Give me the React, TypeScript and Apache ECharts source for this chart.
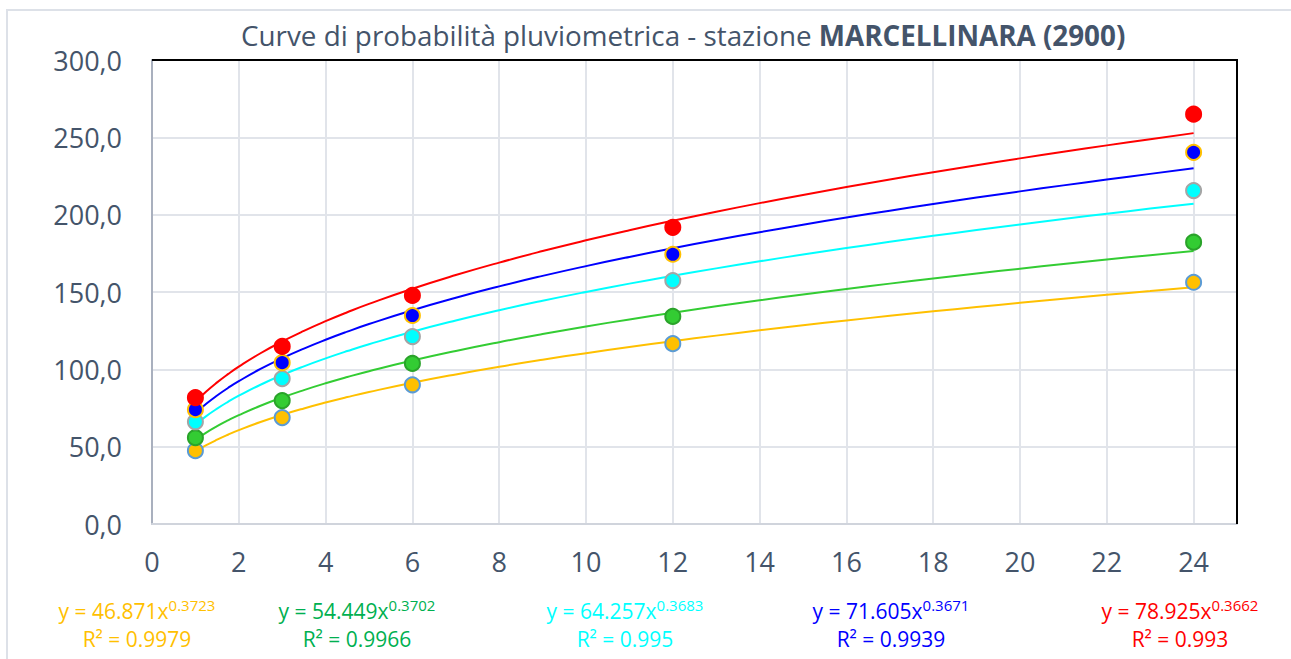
import React, { useEffect, useRef } from "react";
import * as echarts from "echarts";

const durations = [1, 3, 6, 12, 24];
const seriesNames = ["T1", "T2", "T3", "T4", "T5"];
const valuesT1 = [47.4, 68.8, 90.0, 116.6, 156.3];
const valuesT2 = [55.8, 79.8, 103.8, 134.2, 182.2];
const valuesT3 = [66.1, 94.0, 121.2, 157.4, 215.6];
const valuesT4 = [73.9, 104.3, 134.8, 174.4, 240.3];
const valuesT5 = [81.7, 114.8, 147.8, 191.8, 265.0];
const coefA = [46.871, 54.449, 64.257, 71.605, 78.925];
const coefB = [0.3723, 0.3702, 0.3683, 0.3671, 0.3662];
const r2 = ["0.9979", "0.9966", "0.995", "0.9939", "0.993"];
const trendX = [1, 1.25, 1.5, 1.75, 2, 2.5, 3, 3.5, 4, 4.5, 5, 6, 7, 8, 9, 10, 11, 12, 13, 14, 15, 16, 17, 18, 19, 20, 21, 22, 23, 24];
const xTicks = [0, 2, 4, 6, 8, 10, 12, 14, 16, 18, 20, 22, 24];
const yTicks = [0, 50, 100, 150, 200, 250, 300];
const X_MIN = 0;
const X_MAX = 25;
const Y_MIN = 0;
const Y_MAX = 300;

const allValues = [valuesT1, valuesT2, valuesT3, valuesT4, valuesT5];
const lineColors = ["#FFC000", "#33CC33", "#00FFFF", "#0000FF", "#FF0000"];
const markerBorders = ["#5B9BD5", "#2AA32A", "#A5A5A5", "#FFC000", "#FF0000"];
const eqColors = ["#FFC000", "#00B050", "#00FFFF", "#0000FF", "#FF0000"];
const eqCenters = [137, 357, 625, 891, 1180];

const FONT = "'Open Sans', sans-serif";
const TXT = "#44546A";

export default function App() {
  const ref = useRef<HTMLDivElement>(null);
  useEffect(() => {
    if (!ref.current) return;
    const chart = echarts.init(ref.current, undefined, { renderer: "svg" });
    const series: any[] = [];
    allValues.forEach((vals, i) => {
      series.push({
        name: seriesNames[i] + " trend",
        type: "line",
        data: trendX.map((x) => [x, coefA[i] * Math.pow(x, coefB[i])]),
        showSymbol: false,
        smooth: true,
        lineStyle: { color: lineColors[i], width: 2 },
        z: 2,
      });
    });
    allValues.forEach((vals, i) => {
      series.push({
        name: seriesNames[i],
        type: "scatter",
        data: durations.map((d, k) => [d, vals[k]]),
        symbolSize: 15,
        itemStyle: { color: lineColors[i], borderColor: markerBorders[i], borderWidth: 2, opacity: 1 },
        z: 3,
      });
    });
    const graphics: any[] = [
      {
        id: "frame",
        type: "rect",
        shape: { x: 7, y: 10, width: 1300, height: 700 },
        style: { fill: "none", stroke: "#DDE1E8", lineWidth: 2 },
        silent: true,
      },
    ];
    eqCenters.forEach((cx, i) => {
      graphics.push({
        type: "text",
        x: cx,
        y: 597,
        style: {
          text: `{m|y = ${coefA[i].toFixed(3)}x}{s|${coefB[i].toFixed(4)}}\n{m|R² = ${r2[i]}}`,
          align: "center",
          fill: eqColors[i],
          fontFamily: FONT,
          rich: {
            m: { fontSize: 21, fontFamily: FONT, fill: eqColors[i], color: eqColors[i], lineHeight: 28 },
            s: { fontSize: 15, fontFamily: FONT, fill: eqColors[i], color: eqColors[i], verticalAlign: "top", lineHeight: 28, padding: [0, 0, 10, 0] },
          },
        },
      });
    });
    chart.setOption({
      animation: false,
      backgroundColor: "#ffffff",
      title: {
        text: "{n|Curve di probabilità pluviometrica - stazione }{b|MARCELLINARA (2900)}",
        left: 236,
        top: 16,
        textStyle: {
          fontWeight: "normal",
          rich: {
            n: { fontSize: 27.8, fontFamily: FONT, color: TXT, fontWeight: "normal" },
            b: { fontSize: 27.8, fontFamily: FONT, color: TXT, fontWeight: "bold" },
          },
        },
      },
      grid: { left: 152, right: 54, top: 60, bottom: 135, containLabel: false },
      xAxis: {
        type: "value",
        min: X_MIN,
        max: X_MAX,
        interval: 2,
        axisLine: { show: true, onZero: false, lineStyle: { color: "#D0D4DC", width: 2 } },
        axisTick: { show: false },
        axisLabel: {
          fontSize: 27,
          fontFamily: FONT,
          color: TXT,
          margin: 24,
          showMaxLabel: false,
          formatter: (v: number) => (xTicks.includes(v) ? String(v) : ""),
        },
        splitLine: { show: true, lineStyle: { color: "#E1E4EA", width: 2 } },
      },
      yAxis: {
        type: "value",
        min: Y_MIN,
        max: Y_MAX,
        interval: 50,
        axisLine: { show: true, onZero: false, lineStyle: { color: "#A9B0BE", width: 2 } },
        axisTick: { show: false },
        axisLabel: {
          fontSize: 27,
          fontFamily: FONT,
          color: TXT,
          margin: 30,
          formatter: (v: number) => (yTicks.includes(v) ? v.toFixed(1).replace(".", ",") : ""),
        },
        splitLine: { show: true, lineStyle: { color: "#E1E4EA", width: 2 } },
      },
      series,
      graphic: graphics,
    });
    const tl = chart.convertToPixel({ gridIndex: 0 }, [X_MIN, Y_MAX]) as number[];
    const tr = chart.convertToPixel({ gridIndex: 0 }, [X_MAX, Y_MAX]) as number[];
    const br = chart.convertToPixel({ gridIndex: 0 }, [X_MAX, Y_MIN]) as number[];
    chart.setOption({
      graphic: [
        {
          id: "plotBorder",
          type: "polyline",
          z: 100,
          shape: { points: [tl, tr, br] },
          style: { fill: "none", stroke: "#000000", lineWidth: 2 },
          silent: true,
        },
      ],
    });
    return () => chart.dispose();
  }, []);
  return (
    <div
      ref={ref}
      style={{ position: "fixed", left: 0, top: 0, width: 1291, height: 659 }}
    />
  );
}
